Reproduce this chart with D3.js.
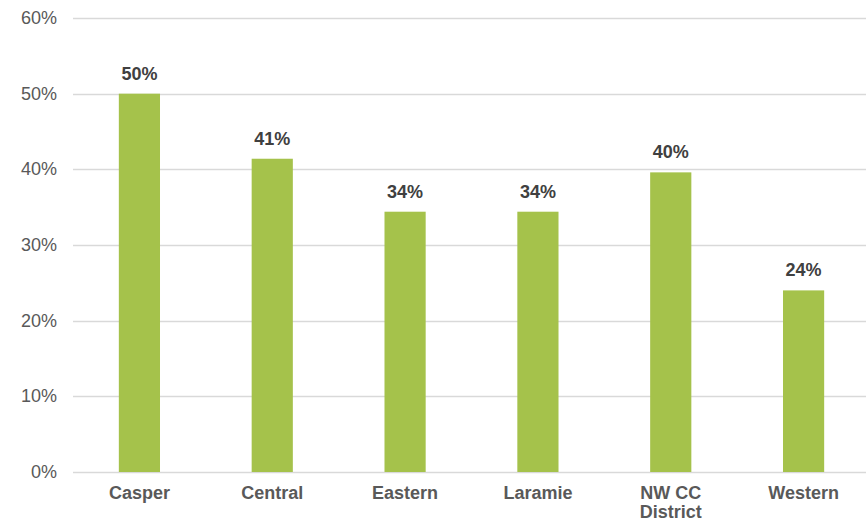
<!DOCTYPE html>
<html><head><meta charset="utf-8">
<script src="https://cdn.jsdelivr.net/npm/d3@7"></script>
<style>body{margin:0;background:#fff}svg{display:block}text{font-family:"Liberation Sans",Arial,Helvetica,sans-serif}</style>
</head><body>
<script>
const categories = ["Casper", "Central", "Eastern", "Laramie", "NW CC District", "Western"];
const values = [50.0, 41.4, 34.4, 34.4, 39.6, 24.0];
const yTicks = [0, 10, 20, 30, 40, 50, 60];

const W = 866, H = 522;
const m = {left: 73, right: -4, top: 18, bottom: 50};
const svg = d3.select("body").append("svg").attr("width", W).attr("height", H);

const x = d3.scaleBand().domain(categories).range([m.left, W - m.right]).paddingInner(0.69).paddingOuter(0.345);
const y = d3.scaleLinear().domain([0, 60]).range([H - m.bottom, m.top]);

// gridlines
svg.append("g").selectAll("line").data(yTicks).join("line")
  .attr("x1", m.left).attr("x2", W)
  .attr("y1", d => Math.round(y(d)) + 0.5).attr("y2", d => Math.round(y(d)) + 0.5)
  .attr("stroke", "#d9d9d9").attr("stroke-width", 1.3);

// y labels
svg.append("g").selectAll("text").data(yTicks).join("text")
  .attr("x", 57).attr("y", d => y(d) + 6)
  .attr("text-anchor", "end").attr("fill", "#595959").attr("font-size", 18)
  .text(d => d + "%");

// bars
svg.append("g").selectAll("rect").data(values).join("rect")
  .attr("x", (d, i) => x(categories[i])).attr("width", x.bandwidth())
  .attr("y", d => y(d)).attr("height", d => y(0) - y(d))
  .attr("fill", "#a5c24b");

// value labels
svg.append("g").selectAll("text").data(values).join("text")
  .attr("x", (d, i) => x(categories[i]) + x.bandwidth() / 2)
  .attr("y", d => y(d) - 14)
  .attr("text-anchor", "middle").attr("fill", "#404040").attr("font-size", 18).attr("font-weight", "bold")
  .text(d => Math.round(d) + "%");

// x labels
const xl = svg.append("g").selectAll("text").data(categories).join("text")
  .attr("x", d => x(d) + x.bandwidth() / 2)
  .attr("y", 499)
  .attr("text-anchor", "middle").attr("fill", "#595959").attr("font-size", 18).attr("font-weight", "bold");
xl.each(function(d) {
  const t = d3.select(this);
  const parts = d === "NW CC District" ? ["NW CC", "District"] : [d];
  parts.forEach((p, i) => t.append("tspan").attr("x", x(d) + x.bandwidth() / 2).attr("dy", i ? 19 : 0).text(p));
});
</script>
</body></html>
